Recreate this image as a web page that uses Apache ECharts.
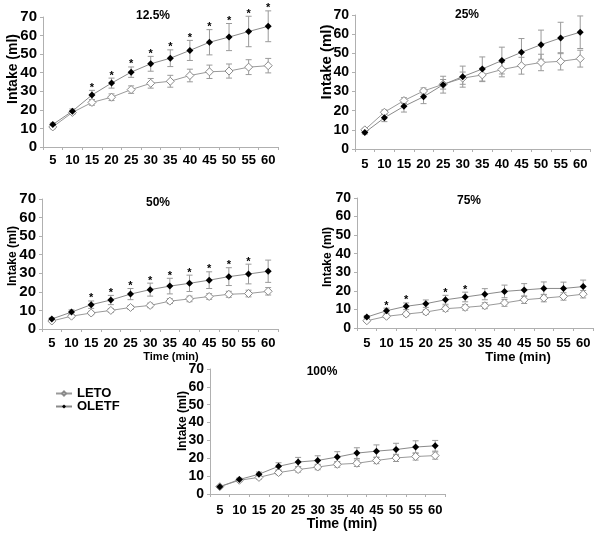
<!DOCTYPE html>
<html>
<head>
<meta charset="utf-8">
<script src="https://cdn.jsdelivr.net/npm/echarts@6/dist/echarts.min.js"></script>
<style>html,body{margin:0;padding:0;background:#fff;}#c{width:600px;height:535px;}</style>
</head>
<body>
<div id="c"></div>
<script>
const times = ['5','10','15','20','25','30','35','40','45','50','55','60'];
const yTicks = [0,10,20,30,40,50,60,70];

const leto125 = [10.8, 18.6, 24.0, 26.8, 30.9, 34.3, 35.4, 38.5, 40.5, 40.9, 43.0, 43.8];
const letoErr125 = [1.0, 1.0, 1.5, 1.8, 2.0, 2.6, 3.2, 3.4, 3.6, 3.8, 4.0, 3.9];
const oletf125 = [12.1, 19.3, 28.0, 34.4, 40.3, 44.8, 47.8, 52.0, 56.4, 59.2, 62.2, 65.0];
const oletfErr125 = [0.8, 1.2, 2.5, 2.7, 2.8, 4.0, 4.5, 5.4, 6.8, 7.3, 8.2, 8.3];
const sig125 = [0,0,1,1,1,1,1,1,1,1,1,1];

const leto25 = [10.0, 19.2, 25.3, 30.3, 33.8, 37.0, 38.7, 41.5, 43.5, 45.2, 45.8, 47.2];
const letoErr25 = [0.8, 1.2, 1.5, 1.6, 2.5, 3.2, 3.5, 3.8, 4.4, 4.3, 4.5, 4.4];
const oletf25 = [8.6, 16.3, 22.3, 27.3, 33.6, 37.8, 41.8, 46.2, 50.5, 54.5, 58.0, 61.0];
const oletfErr25 = [0.8, 2.0, 3.0, 3.6, 4.4, 5.5, 6.3, 7.0, 7.2, 7.6, 8.2, 8.5];
const sig25 = [0,0,0,0,0,0,0,0,0,0,0,0];

const leto50 = [4.3, 6.9, 8.6, 10.0, 11.6, 12.7, 15.0, 16.2, 17.5, 18.7, 19.1, 20.3];
const letoErr50 = [0.5, 0.8, 0.9, 1.0, 1.1, 1.2, 1.3, 1.5, 1.5, 1.6, 1.8, 2.0];
const oletf50 = [5.4, 9.1, 13.1, 15.6, 18.8, 21.2, 23.1, 24.6, 26.3, 28.2, 29.6, 31.1];
const oletfErr50 = [0.6, 1.2, 2.0, 2.5, 3.0, 3.5, 4.2, 4.4, 4.5, 4.8, 5.3, 6.0];
const sig50 = [0,0,1,1,1,1,1,1,1,1,1,0];

const leto75 = [3.9, 6.3, 7.5, 8.6, 10.4, 11.1, 12.0, 13.5, 15.2, 16.1, 17.0, 18.2];
const letoErr75 = [0.5, 0.8, 1.0, 1.2, 1.4, 1.5, 1.6, 1.8, 2.0, 2.0, 2.0, 2.0];
const oletf75 = [5.9, 9.3, 11.7, 13.1, 15.2, 16.7, 18.2, 19.7, 20.5, 21.3, 21.3, 22.3];
const oletfErr75 = [0.8, 1.4, 1.8, 2.0, 2.4, 2.6, 3.0, 3.4, 3.4, 3.5, 3.4, 3.5];
const sig75 = [0,1,1,0,1,1,0,0,0,0,0,0];

const leto100 = [4.1, 7.7, 9.3, 12.0, 13.7, 15.1, 16.6, 17.2, 18.8, 20.2, 21.0, 21.5];
const letoErr100 = [0.5, 0.8, 1.0, 1.2, 1.4, 1.5, 1.6, 1.8, 1.8, 2.0, 2.0, 2.0];
const oletf100 = [4.1, 8.1, 11.1, 15.5, 17.9, 18.8, 20.7, 22.9, 24.0, 24.9, 26.3, 27.0];
const oletfErr100 = [0.5, 0.8, 1.2, 2.0, 2.6, 2.6, 3.0, 3.0, 3.5, 3.5, 3.5, 3.0];
const sig100 = [0,0,0,0,0,0,0,0,0,0,0,0];

const panelTitles = ['12.5%', '25%', '50%', '75%', '100%'];

const panels = [
  {leto: leto125, le: letoErr125, oletf: oletf125, oe: oletfErr125, sig: sig125,
   grid: {left: 43, top: 17, width: 235, height: 130}, yFont: 15, xMargin: 7,
   title: [153, 16], yName: [13, 69, 14], time: null},
  {leto: leto25, le: letoErr25, oletf: oletf25, oe: oletfErr25, sig: sig25,
   grid: {left: 355, top: 15, width: 235, height: 134}, yFont: 14, xMargin: 9,
   title: [467, 15], yName: [327, 62, 15], time: null},
  {leto: leto50, le: letoErr50, oletf: oletf50, oe: oletfErr50, sig: sig50,
   grid: {left: 42, top: 199, width: 236, height: 130}, yFont: 15, xMargin: 8,
   title: [158, 203], yName: [13, 256, 12], time: [171, 357, 11]},
  {leto: leto75, le: letoErr75, oletf: oletf75, oe: oletfErr75, sig: sig75,
   grid: {left: 357, top: 198, width: 236, height: 130}, yFont: 14, xMargin: 9,
   title: [469, 201], yName: [328, 257, 12], time: [518, 357, 13]},
  {leto: leto100, le: letoErr100, oletf: oletf100, oe: oletfErr100, sig: sig100,
   grid: {left: 210, top: 369, width: 235, height: 125}, yFont: 14, xMargin: 10,
   title: [322, 372], yName: [183, 421, 12], time: [342, 524, 14]}
];

const FONT = 'Liberation Sans, Arial, sans-serif';

function errRender(params, api) {
  const x = api.value(0), lo = api.value(1), hi = api.value(2);
  const p1 = api.coord([x, lo]), p2 = api.coord([x, hi]);
  const w = 3;
  const st = {stroke: '#9a9a9a', lineWidth: 1};
  return {type: 'group', children: [
    {type: 'line', shape: {x1: p1[0], y1: p1[1], x2: p2[0], y2: p2[1]}, style: st},
    {type: 'line', shape: {x1: p1[0]-w, y1: p1[1], x2: p1[0]+w, y2: p1[1]}, style: st},
    {type: 'line', shape: {x1: p2[0]-w, y1: p2[1], x2: p2[0]+w, y2: p2[1]}, style: st}
  ]};
}
function starRender(params, api) {
  const p = api.coord([api.value(0), api.value(1)]);
  return {type: 'text', x: p[0], y: p[1] + 3, style: {
    text: '*', font: 'bold 11px ' + FONT, fill: '#000',
    textAlign: 'center', textVerticalAlign: 'bottom', align: 'center', verticalAlign: 'bottom'}};
}

const grids = [], xAxes = [], yAxes = [], series = [], graphics = [];
panels.forEach((p, i) => {
  grids.push(p.grid);
  xAxes.push({type: 'category', gridIndex: i, data: times, boundaryGap: true,
    axisLine: {lineStyle: {color: '#b0b0b0'}},
    axisTick: {show: true, length: 3, lineStyle: {color: '#b0b0b0'}},
    axisLabel: {interval: 0, margin: p.xMargin, color: '#000', fontWeight: 'bold', fontSize: 13, fontFamily: FONT},
    splitLine: {show: false}});
  yAxes.push({type: 'value', gridIndex: i, min: 0, max: 70, interval: 10,
    axisLine: {show: true, lineStyle: {color: '#b0b0b0'}},
    axisTick: {show: true, length: 3, lineStyle: {color: '#b0b0b0'}},
    axisLabel: {margin: 6, color: '#000', fontWeight: 'bold', fontSize: p.yFont, fontFamily: FONT},
    splitLine: {show: false}});
  series.push({type: 'custom', xAxisIndex: i, yAxisIndex: i, renderItem: errRender, z: 1,
    encode: {x: 0, y: [1, 2]}, silent: true,
    data: p.leto.map((v, k) => [k, v - p.le[k], v + p.le[k]])});
  series.push({type: 'custom', xAxisIndex: i, yAxisIndex: i, renderItem: errRender, z: 1,
    encode: {x: 0, y: [1, 2]}, silent: true,
    data: p.oletf.map((v, k) => [k, v - p.oe[k], v + p.oe[k]])});
  series.push({name: 'LETO', type: 'line', xAxisIndex: i, yAxisIndex: i, data: p.leto, z: 3,
    symbol: 'diamond', symbolSize: 8, showAllSymbol: true,
    lineStyle: {color: '#9a9a9a', width: 1},
    itemStyle: {color: '#ffffff', borderColor: '#8a8a8a', borderWidth: 1}});
  series.push({name: 'OLETF', type: 'line', xAxisIndex: i, yAxisIndex: i, data: p.oletf, z: 4,
    symbol: 'diamond', symbolSize: 7, showAllSymbol: true,
    lineStyle: {color: '#8a8a8a', width: 1},
    itemStyle: {color: '#000000', borderColor: '#000000', borderWidth: 0}});
  const stars = [];
  p.sig.forEach((s, k) => { if (s) stars.push([k, p.oletf[k] + p.oe[k]]); });
  if (stars.length) {
    series.push({type: 'custom', xAxisIndex: i, yAxisIndex: i, renderItem: starRender, z: 5,
      encode: {x: 0, y: 1}, silent: true, clip: false, data: stars});
  }
  graphics.push({type: 'text', x: p.title[0], y: p.title[1], style: {
    text: panelTitles[i], font: 'bold 12px ' + FONT, fill: '#000',
    textAlign: 'center', textVerticalAlign: 'middle', align: 'center', verticalAlign: 'middle'}});
  graphics.push({type: 'text', x: p.yName[0], y: p.yName[1], rotation: Math.PI / 2, style: {
    text: 'Intake (ml)', font: 'bold ' + p.yName[2] + 'px ' + FONT, fill: '#000',
    textAlign: 'center', textVerticalAlign: 'middle', align: 'center', verticalAlign: 'middle'}});
  if (p.time) {
    graphics.push({type: 'text', x: p.time[0], y: p.time[1], style: {
      text: 'Time (min)', font: 'bold ' + p.time[2] + 'px ' + FONT, fill: '#000',
      textAlign: 'center', textVerticalAlign: 'middle', align: 'center', verticalAlign: 'middle'}});
  }
});

const chart = echarts.init(document.getElementById('c'), null, {renderer: 'canvas'});
chart.setOption({
  animation: false,
  backgroundColor: '#ffffff',
  grid: grids, xAxis: xAxes, yAxis: yAxes, series: series,
  graphic: graphics,
  legend: {data: ['LETO', 'OLETF'], orient: 'vertical', left: 55, top: 387, itemGap: 0,
    itemWidth: 16, itemHeight: 5, padding: 0,
    textStyle: {color: '#000', fontWeight: 'bold', fontSize: 13, fontFamily: FONT, lineHeight: 11}}
});
</script>
</body>
</html>
